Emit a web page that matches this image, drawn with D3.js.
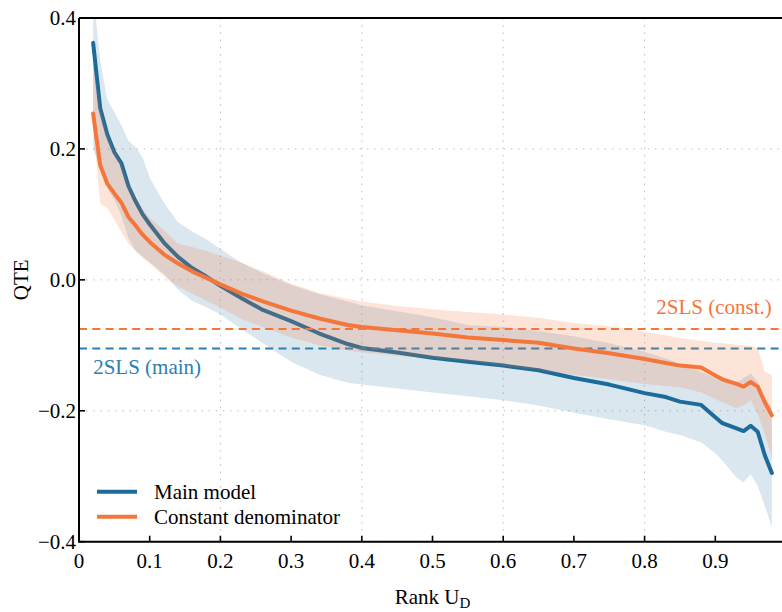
<!DOCTYPE html>
<html>
<head>
<meta charset="utf-8">
<script src="https://cdn.jsdelivr.net/npm/d3@7"></script>
<style>
  body { margin: 0; background: #fff; }
  text { font-family: "Liberation Serif", "Times New Roman", serif; }
</style>
</head>
<body>
<div id="chart"></div>
<script>
// DATA: quantile treatment effects by rank of U_D
const rank = [0.02, 0.03, 0.04, 0.05, 0.06, 0.07, 0.08, 0.09, 0.10, 0.12, 0.14, 0.16, 0.18, 0.20,
              0.23, 0.26, 0.30, 0.34, 0.38, 0.40, 0.45, 0.50, 0.55, 0.60, 0.65, 0.70, 0.75, 0.80,
              0.83, 0.85, 0.88, 0.90, 0.91, 0.93, 0.94, 0.95, 0.96, 0.97, 0.98];

const mainQTE = [0.362, 0.262, 0.222, 0.195, 0.178, 0.143, 0.120, 0.100, 0.085, 0.057, 0.035, 0.018, 0.005, -0.009,
                 -0.028, -0.046, -0.063, -0.082, -0.098, -0.104, -0.111, -0.119, -0.125, -0.131, -0.138, -0.150, -0.160, -0.173,
                 -0.179, -0.186, -0.191, -0.210, -0.219, -0.227, -0.231, -0.223, -0.232, -0.268, -0.295];
const mainLo  = [0.200, 0.170, 0.140, 0.122, 0.098, 0.063, 0.045, 0.035, 0.027, 0.009, -0.015, -0.032, -0.042, -0.053,
                 -0.075, -0.097, -0.125, -0.145, -0.157, -0.160, -0.166, -0.172, -0.178, -0.184, -0.192, -0.203, -0.213, -0.222,
                 -0.232, -0.237, -0.248, -0.265, -0.276, -0.302, -0.309, -0.297, -0.315, -0.345, -0.378];
const mainHi  = [0.440, 0.335, 0.276, 0.256, 0.236, 0.212, 0.203, 0.187, 0.156, 0.118, 0.088, 0.074, 0.062, 0.047,
                 0.026, 0.010, -0.008, -0.022, -0.033, -0.039, -0.048, -0.057, -0.069, -0.072, -0.078, -0.086, -0.097, -0.110,
                 -0.120, -0.128, -0.141, -0.150, -0.153, -0.157, -0.150, -0.143, -0.155, -0.180, -0.195];

const constQTE = [0.254, 0.175, 0.147, 0.132, 0.118, 0.096, 0.083, 0.069, 0.058, 0.039, 0.025, 0.013, 0.003, -0.007,
                  -0.021, -0.033, -0.047, -0.059, -0.069, -0.072, -0.077, -0.082, -0.088, -0.092, -0.096, -0.105, -0.112, -0.121,
                  -0.127, -0.131, -0.134, -0.146, -0.152, -0.159, -0.163, -0.156, -0.163, -0.187, -0.207];
const constLo  = [0.235, 0.116, 0.110, 0.092, 0.073, 0.055, 0.044, 0.034, 0.025, 0.006, -0.010, -0.021, -0.032, -0.042,
                  -0.060, -0.072, -0.088, -0.100, -0.108, -0.111, -0.116, -0.120, -0.124, -0.132, -0.138, -0.145, -0.152, -0.159,
                  -0.162, -0.164, -0.172, -0.182, -0.187, -0.196, -0.192, -0.184, -0.205, -0.235, -0.272];
const constHi  = [0.330, 0.265, 0.225, 0.198, 0.178, 0.148, 0.126, 0.108, 0.095, 0.076, 0.055, 0.050, 0.044, 0.037,
                  0.026, 0.013, -0.006, -0.020, -0.029, -0.033, -0.040, -0.045, -0.049, -0.053, -0.058, -0.066, -0.071, -0.079,
                  -0.085, -0.089, -0.093, -0.096, -0.097, -0.099, -0.100, -0.101, -0.104, -0.140, -0.146];

// 2SLS reference estimates
const tslsMain = -0.105;
const tslsConst = -0.075;

const xTicks = [0, 0.1, 0.2, 0.3, 0.4, 0.5, 0.6, 0.7, 0.8, 0.9];
const xGrid = [0.2, 0.4, 0.6, 0.8];
const yTicks = [-0.4, -0.2, 0, 0.2, 0.4];
const yGrid = [-0.2, 0, 0.2];

const seriesNames = ["Main model", "Constant denominator"];

// SETUP
const W = 782, H = 612;
const pL = 79, pT = 18, pR = 786, pB = 541.7;
const blue = "#1b6b9b", orange = "#f5763a";
const blueText = "#2a80b3";
const fontSize = 21;

const svg = d3.select("#chart").append("svg")
    .attr("width", W)
    .attr("height", H);

const x = d3.scaleLinear().domain([0, 1]).range([pL, pR]);
const y = d3.scaleLinear().domain([-0.4, 0.4]).range([pB, pT]);

svg.append("clipPath").attr("id", "plot")
  .append("rect")
    .attr("x", pL).attr("y", pT)
    .attr("width", pR - pL).attr("height", pB - pT);

const plot = svg.append("g").attr("clip-path", "url(#plot)");

// grid
plot.selectAll(".gx").data(xGrid).join("line")
    .attr("x1", d => x(d)).attr("x2", d => x(d))
    .attr("y1", pT).attr("y2", pB)
    .attr("stroke", "#bdbdbd").attr("stroke-width", 1)
    .attr("stroke-dasharray", "1.5,5.7");
plot.selectAll(".gy").data(yGrid).join("line")
    .attr("x1", pL).attr("x2", pR)
    .attr("y1", d => y(d)).attr("y2", d => y(d))
    .attr("stroke", "#bdbdbd").attr("stroke-width", 1)
    .attr("stroke-dasharray", "1.5,5.7");

const idx = d3.range(rank.length);
const band = (lo, hi) => d3.area()
    .x(i => x(rank[i]))
    .y0(i => y(lo[i]))
    .y1(i => y(hi[i]));
const line = vals => d3.line()
    .x(i => x(rank[i]))
    .y(i => y(vals[i]));

// main model band + line
plot.append("path").datum(idx)
    .attr("d", band(mainLo, mainHi))
    .attr("fill", blue).attr("fill-opacity", 0.16);
plot.append("path").datum(idx)
    .attr("d", line(mainQTE))
    .attr("fill", "none").attr("stroke", blue)
    .attr("stroke-width", 4).attr("stroke-linejoin", "round").attr("stroke-linecap", "round");

// 2SLS dashed lines
plot.append("line")
    .attr("x1", pL).attr("x2", pR)
    .attr("y1", y(tslsMain)).attr("y2", y(tslsMain))
    .attr("stroke", blueText).attr("stroke-width", 2).attr("stroke-dasharray", "8,5.3");
plot.append("line")
    .attr("x1", pL).attr("x2", pR)
    .attr("y1", y(tslsConst)).attr("y2", y(tslsConst))
    .attr("stroke", orange).attr("stroke-width", 2).attr("stroke-dasharray", "8,5.3");

// constant denominator band + line
plot.append("path").datum(idx)
    .attr("d", band(constLo, constHi))
    .attr("fill", orange).attr("fill-opacity", 0.2);
plot.append("path").datum(idx)
    .attr("d", line(constQTE))
    .attr("fill", "none").attr("stroke", orange)
    .attr("stroke-width", 4).attr("stroke-linejoin", "round").attr("stroke-linecap", "round");

// 2SLS labels
svg.append("text")
    .attr("x", x(rank[0])).attr("y", y(tslsMain) + 25)
    .attr("fill", blueText).attr("font-size", fontSize)
    .text("2SLS (main)");
svg.append("text")
    .attr("x", x(rank[rank.length - 1])).attr("y", y(tslsConst) - 15)
    .attr("text-anchor", "end")
    .attr("fill", orange).attr("font-size", fontSize)
    .text("2SLS (const.)");

// spines
svg.append("path")
    .attr("d", `M${pL},${pT}H${pR}`)
    .attr("stroke", "#000").attr("stroke-width", 2);
svg.append("path")
    .attr("d", `M${pL},${pT}V${pB}H${pR}`)
    .attr("fill", "none").attr("stroke", "#000").attr("stroke-width", 2);

// ticks (inward)
svg.selectAll(".xt").data(xTicks).join("line")
    .attr("x1", d => x(d)).attr("x2", d => x(d))
    .attr("y1", pB).attr("y2", pB - 6)
    .attr("stroke", "#000").attr("stroke-width", 1.6);
svg.selectAll(".yt").data(yTicks).join("line")
    .attr("x1", pL).attr("x2", pL + 6)
    .attr("y1", d => y(d)).attr("y2", d => y(d))
    .attr("stroke", "#000").attr("stroke-width", 1.6);

const fmtX = d => d === 0 ? "0" : d3.format(".1f")(d);
const fmtY = d => d3.format(".1f")(d).replace("-", "\u2212");

svg.selectAll(".xl").data(xTicks).join("text")
    .attr("x", d => x(d)).attr("y", pB + 26)
    .attr("text-anchor", "middle").attr("font-size", fontSize)
    .text(fmtX);
svg.selectAll(".yl").data(yTicks).join("text")
    .attr("x", pL - 3).attr("y", d => y(d) + 7)
    .attr("text-anchor", "end").attr("font-size", fontSize)
    .text(fmtY);

// axis labels
const xlab = svg.append("text")
    .attr("x", (pL + pR) / 2).attr("y", 604)
    .attr("text-anchor", "middle").attr("font-size", fontSize);
xlab.append("tspan").text("Rank U");
xlab.append("tspan").attr("font-size", 15).attr("dy", 4).text("D");

svg.append("text")
    .attr("transform", `translate(28,${(pT + pB) / 2}) rotate(-90)`)
    .attr("text-anchor", "middle").attr("font-size", fontSize)
    .text("QTE");

// legend
const legend = svg.append("g");
[blue, orange].forEach((c, i) => {
    const ly = 491.7 + i * 25;
    legend.append("line")
        .attr("x1", 97).attr("x2", 137)
        .attr("y1", ly).attr("y2", ly)
        .attr("stroke", c).attr("stroke-width", 4);
    legend.append("text")
        .attr("x", 154).attr("y", ly + 7)
        .attr("font-size", fontSize)
        .text(seriesNames[i]);
});
</script>
</body>
</html>
